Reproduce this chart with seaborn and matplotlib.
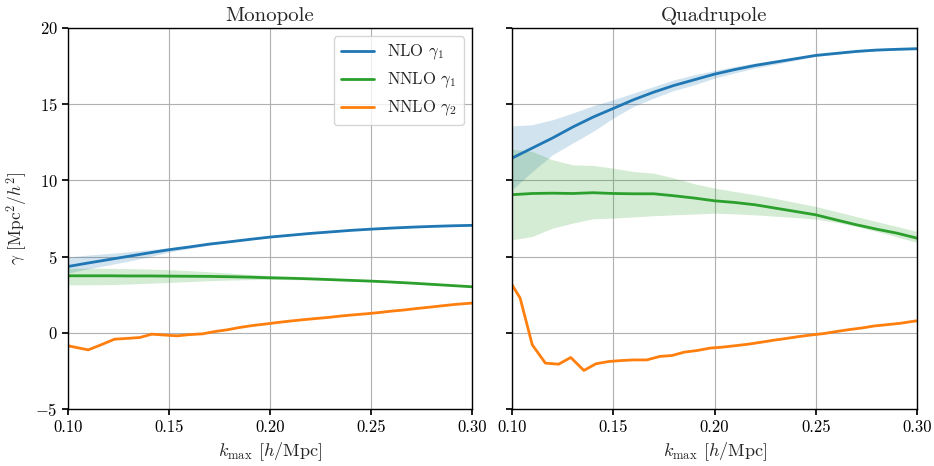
import numpy as np
import pandas as pd
import matplotlib
matplotlib.use("Agg")
import matplotlib.pyplot as plt
import seaborn as sns

# ---------------- data ----------------
k_coarse = [0.10, 0.11, 0.12, 0.13, 0.14, 0.15, 0.16, 0.17, 0.18, 0.19, 0.20,
            0.21, 0.22, 0.23, 0.24, 0.25, 0.26, 0.27, 0.28, 0.29, 0.30]

k_fine = [0.100, 0.104, 0.110, 0.1165, 0.123, 0.129, 0.1355, 0.1415, 0.148, 0.154,
          0.160, 0.1665, 0.173, 0.179, 0.185, 0.1915, 0.198, 0.204, 0.210, 0.2165,
          0.223, 0.229, 0.235, 0.2415, 0.248, 0.254, 0.260, 0.2665, 0.273, 0.279,
          0.285, 0.2915, 0.300]

# Monopole
mono_nlo_g1 = [4.35, 4.58, 4.80, 5.02, 5.24, 5.45, 5.63, 5.82, 5.97, 6.13, 6.28,
               6.40, 6.52, 6.62, 6.72, 6.80, 6.87, 6.93, 6.98, 7.02, 7.05]
mono_nlo_g1_hi = [4.97, 5.10, 5.20, 5.32, 5.45, 5.58, 5.70, 5.87, 6.00, 6.16, 6.31,
                  6.43, 6.55, 6.65, 6.75, 6.83, 6.90, 6.96, 7.01, 7.05, 7.08]
mono_nlo_g1_lo = [3.92, 4.20, 4.45, 4.70, 4.98, 5.30, 5.53, 5.75, 5.93, 6.10, 6.25,
                  6.37, 6.49, 6.59, 6.69, 6.77, 6.84, 6.90, 6.95, 6.99, 7.02]
mono_nnlo_g1 = [3.74, 3.74, 3.74, 3.73, 3.73, 3.72, 3.71, 3.70, 3.68, 3.65, 3.61,
                3.58, 3.54, 3.49, 3.44, 3.39, 3.33, 3.26, 3.18, 3.10, 3.02]
mono_nnlo_g1_hi = [4.24, 4.24, 4.23, 4.21, 4.18, 4.14, 4.08, 4.00, 3.92, 3.83, 3.75,
                   3.68, 3.62, 3.55, 3.49, 3.43, 3.37, 3.30, 3.22, 3.13, 3.05]
mono_nnlo_g1_lo = [3.15, 3.15, 3.16, 3.20, 3.25, 3.30, 3.36, 3.42, 3.46, 3.49, 3.50,
                   3.49, 3.47, 3.43, 3.39, 3.35, 3.29, 3.22, 3.14, 3.07, 2.99]
mono_nnlo_g2 = [-0.85, -0.96, -1.12, -0.78, -0.42, -0.37, -0.31, -0.09, -0.15, -0.20,
                -0.12, -0.07, 0.09, 0.20, 0.35, 0.48, 0.58, 0.68, 0.77, 0.86,
                0.94, 1.01, 1.10, 1.18, 1.25, 1.33, 1.42, 1.50, 1.60, 1.68,
                1.77, 1.86, 1.95]

# Quadrupole
quad_nlo_g1 = [11.46, 12.12, 12.78, 13.50, 14.15, 14.72, 15.29, 15.79, 16.23, 16.60, 16.97,
               17.27, 17.54, 17.76, 17.98, 18.20, 18.33, 18.46, 18.55, 18.60, 18.64]
quad_nlo_g1_hi = [13.58, 13.65, 13.98, 14.42, 14.90, 15.29, 15.73, 16.16, 16.60, 16.93, 17.21,
                  17.47, 17.70, 17.90, 18.08, 18.25, 18.39, 18.51, 18.60, 18.66, 18.70]
quad_nlo_g1_lo = [9.38, 10.58, 11.68, 12.45, 13.21, 14.09, 14.85, 15.40, 15.90, 16.27, 16.71,
                  17.05, 17.37, 17.62, 17.88, 18.13, 18.27, 18.40, 18.49, 18.54, 18.57]
quad_nnlo_g1 = [9.06, 9.14, 9.16, 9.14, 9.19, 9.14, 9.12, 9.12, 8.99, 8.84, 8.66,
                8.55, 8.40, 8.18, 7.96, 7.74, 7.41, 7.09, 6.80, 6.54, 6.21]
quad_nnlo_g1_hi = [12.05, 11.90, 11.35, 11.02, 10.98, 10.80, 10.58, 10.47, 10.15, 9.78, 9.49,
                   9.27, 9.06, 8.82, 8.55, 8.29, 7.96, 7.63, 7.30, 6.98, 6.65]
quad_nnlo_g1_lo = [6.10, 6.32, 6.87, 7.20, 7.48, 7.53, 7.60, 7.68, 7.74, 7.79, 7.85,
                   7.80, 7.74, 7.65, 7.56, 7.46, 7.25, 6.98, 6.65, 6.30, 5.93]
quad_nnlo_g2 = [3.15, 2.28, -0.79, -1.99, -2.06, -1.62, -2.47, -2.03, -1.88, -1.82,
                -1.78, -1.78, -1.55, -1.49, -1.27, -1.16, -1.00, -0.94, -0.85, -0.75,
                -0.62, -0.49, -0.38, -0.25, -0.14, -0.05, 0.08, 0.21, 0.32, 0.45,
                0.53, 0.62, 0.79]

titles = ["Monopole", "Quadrupole"]
labels = [r"NLO $\gamma_1$", r"NNLO $\gamma_1$", r"NNLO $\gamma_2$"]
colors = ["#1f77b4", "#2ca02c", "#ff7f0e"]

# ---------------- style ----------------
sns.set_theme(style="ticks")
plt.rcParams.update({
    "font.family": "serif",
    "font.serif": ["cmr10", "DejaVu Serif"],
    "mathtext.fontset": "cm",
    "axes.formatter.use_mathtext": True,
    "axes.unicode_minus": True,
    "axes.edgecolor": "black",
    "axes.linewidth": 1.0,
    "xtick.color": "black",
    "ytick.color": "black",
    "xtick.direction": "out",
    "ytick.direction": "out",
    "xtick.major.size": 4,
    "ytick.major.size": 4,
})

fig = plt.figure(figsize=(9.34, 4.66), dpi=100)
ax1 = fig.add_axes([0.0728, 0.1223, 0.4326, 0.8177])
ax2 = fig.add_axes([0.5482, 0.1223, 0.4336, 0.8177], sharey=ax1)

panels = [
    (ax1, [mono_nlo_g1, mono_nnlo_g1, mono_nnlo_g2],
     [(mono_nlo_g1_lo, mono_nlo_g1_hi), (mono_nnlo_g1_lo, mono_nnlo_g1_hi)]),
    (ax2, [quad_nlo_g1, quad_nnlo_g1, quad_nnlo_g2],
     [(quad_nlo_g1_lo, quad_nlo_g1_hi), (quad_nnlo_g1_lo, quad_nnlo_g1_hi)]),
]

for i, (ax, lines, bands) in enumerate(panels):
    for j, (lo, hi) in enumerate(bands):
        ax.fill_between(k_coarse, lo, hi, color=colors[j], alpha=0.2, linewidth=0)
    for j, y in enumerate(lines):
        xs = k_coarse if j < 2 else k_fine
        df = pd.DataFrame({"k": xs, "g": y})
        sns.lineplot(data=df, x="k", y="g", ax=ax, color=colors[j], lw=2,
                     label=labels[j] if i == 0 else None, legend=False)
    ax.set_xlim(0.10, 0.30)
    ax.set_ylim(-5, 20)
    ax.set_xticks([0.10, 0.15, 0.20, 0.25, 0.30])
    ax.set_xticklabels(["0.10", "0.15", "0.20", "0.25", "0.30"])
    ax.set_yticks([-5, 0, 5, 10, 15, 20])
    ax.grid(True, color="#b0b0b0", lw=0.8)
    ax.set_axisbelow(True)
    ax.set_title(titles[i], fontsize=15, pad=5)
    ax.set_xlabel(r"$k_{\rm max}$ [$h$/Mpc]", fontsize=13)
    ax.tick_params(labelsize=12)
    for s in ax.spines.values():
        s.set_visible(True)
        s.set_color("black")

ax1.set_ylabel(r"$\gamma$ [Mpc$^2/h^2$]", fontsize=12.5)
ax2.set_ylabel("")
plt.setp(ax2.get_yticklabels(), visible=False)

ax1.legend(loc="upper right", fontsize=12, frameon=True, fancybox=True,
           edgecolor="#cccccc", framealpha=0.8, handlelength=2.0)

fig.savefig("out.png", dpi=100)
